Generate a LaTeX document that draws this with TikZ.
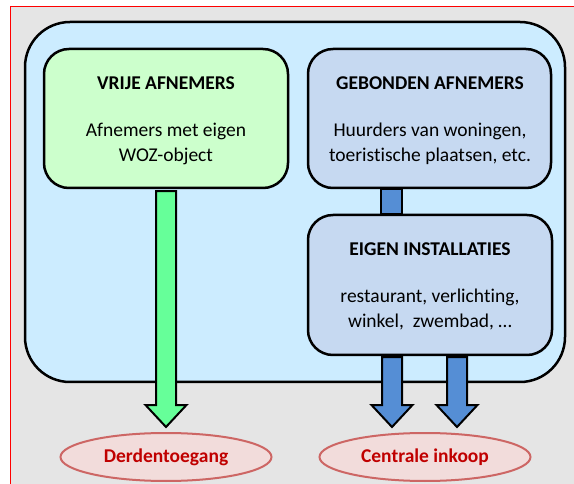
\documentclass[tikz,border=0pt]{standalone}
\usepackage{fontspec}
\setmainfont{Carlito}[Ligatures=NoCommon]
\usetikzlibrary{calc,shapes.geometric}
\definecolor{bggrey}{HTML}{E5E5E5}
\definecolor{outerfill}{HTML}{CCECFF}
\definecolor{greenfill}{HTML}{CCFFCC}
\definecolor{bluefill}{HTML}{C6D9F1}
\definecolor{arrowblue}{HTML}{558ED5}
\definecolor{arrowgreen}{HTML}{66FF99}
\definecolor{ellfill}{HTML}{F2DCDB}
\definecolor{ellline}{HTML}{CD6664}
\definecolor{textred}{HTML}{C00000}
\pgfdeclarelayer{back}
\pgfdeclarelayer{mid}
\pgfsetlayers{back,mid,main}
\newcommand\fatarrow[3]{%
  \draw[#1] ($(#2)+(-10,0)$) -- ($(#3)+(-10,-22)$) -- ($(#3)+(-20.5,-22)$) -- (#3)
    -- ($(#3)+(20.5,-22)$) -- ($(#3)+(10,-22)$) -- ($(#2)+(10,0)$) -- cycle;}
\begin{document}
\begin{tikzpicture}[x=1pt,y=-1pt,
  outerbox/.style={draw=black, line width=2.5pt, fill=outerfill, rounded corners=45pt,
    minimum width=540pt, minimum height=360pt, inner sep=0pt},
  greenbox/.style={draw=black, line width=2.5pt, fill=greenfill, rounded corners=25pt,
    minimum width=244pt, minimum height=139pt, inner sep=0pt},
  bluebox/.style={draw=black, line width=2.5pt, fill=bluefill, rounded corners=25pt,
    minimum width=243pt, minimum height=139pt, inner sep=0pt},
  txt/.style={font=\fontsize{19.5}{25}\selectfont, anchor=base, inner sep=0pt, align=center},
  ttl/.style={font=\fontsize{19.5}{25}\selectfont\bfseries, anchor=base, inner sep=0pt},
  ell/.style={ellipse, draw=ellline, line width=2pt, fill=ellfill, minimum width=211pt,
    minimum height=48pt, inner sep=0pt, text=textred, font=\fontsize{19.5}{25}\selectfont\bfseries},
  garrow/.style={draw=black, line width=2pt, fill=arrowgreen, line join=miter},
  barrow/.style={draw=black, line width=2pt, fill=arrowblue, line join=miter}
]
\useasboundingbox (0,0) rectangle (574,484);
\begin{pgfonlayer}{back}
  \fill[bggrey] (10,7) rectangle (575,485);
  \draw[red, line width=1pt] (10,485) -- (10,7) -- (575,7);
  \node[outerbox] (outer) at (295,202) {};
\end{pgfonlayer}

\node[greenbox] (vrij) at (166,118.5) {};
\node[bluebox] (geb) at (429.5,118.5) {};
\node[bluebox, minimum width=244pt, minimum height=140pt] (eigen) at (430,285) {};

\node[ttl] (vrijT) at (166,90) {VRIJE AFNEMERS};
\node[txt] (vrijB) at (166,162) {Afnemers met eigen\\WOZ-object};
\node[ttl] (gebT) at (430,90) {GEBONDEN AFNEMERS};
\node[txt] (gebB) at (430,162) {Huurders van woningen,\\toeristische plaatsen, etc.};
\node[ttl] (eigT) at (430,256) {EIGEN INSTALLATIES};
\node[txt] (eigB) at (430,328) {restaurant, verlichting,\\winkel,\ \ zwembad, \dots};

\node[ell] (derde) at (166,457) {Derdentoegang};
\node[ell] (centr) at (425,457) {Centrale inkoop};

\begin{pgfonlayer}{mid}
  \draw[barrow] ($(geb.south)+(-48.5,0)$) rectangle ($(eigen.north)+(-28.5,0)$);
  \coordinate (gtip) at ($(derde.north)+(0,-5)$);
  \coordinate (gtop) at ($(vrij.south)+(0,2)$);
  \fatarrow{garrow}{gtop}{gtip}
  \coordinate (b1top) at ($(eigen.south)+(-38,1)$);
  \coordinate (b1tip) at (b1top |- gtip);
  \fatarrow{barrow}{b1top}{b1tip}
  \coordinate (b2top) at ($(eigen.south)+(27,1)$);
  \coordinate (b2tip) at (b2top |- gtip);
  \fatarrow{barrow}{b2top}{b2tip}
\end{pgfonlayer}
\end{tikzpicture}
\end{document}
